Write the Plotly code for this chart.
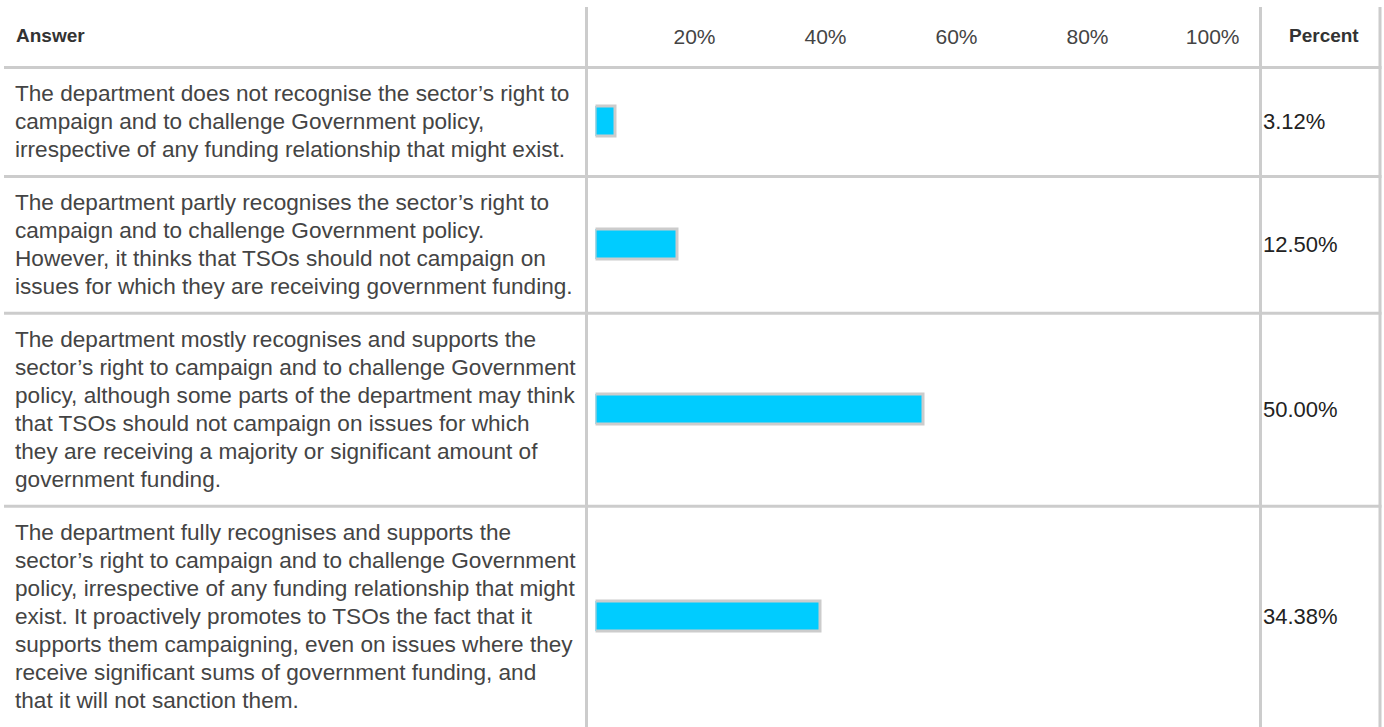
import plotly.graph_objects as go

# ---------------- data ----------------
answer_lines = [
    ["The department does not recognise the sector’s right to",
     "campaign and to challenge Government policy,",
     "irrespective of any funding relationship that might exist."],
    ["The department partly recognises the sector’s right to",
     "campaign and to challenge Government policy.",
     "However, it thinks that TSOs should not campaign on",
     "issues for which they are receiving government funding."],
    ["The department mostly recognises and supports the",
     "sector’s right to campaign and to challenge Government",
     "policy, although some parts of the department may think",
     "that TSOs should not campaign on issues for which",
     "they are receiving a majority or significant amount of",
     "government funding."],
    ["The department fully recognises and supports the",
     "sector’s right to campaign and to challenge Government",
     "policy, irrespective of any funding relationship that might",
     "exist. It proactively promotes to TSOs the fact that it",
     "supports them campaigning, even on issues where they",
     "receive significant sums of government funding, and",
     "that it will not sanction them."],
]
percent_values = [3.12, 12.50, 50.00, 34.38]
percent_labels = ["3.12%", "12.50%", "50.00%", "34.38%"]
tick_values = [20, 40, 60, 80, 100]
tick_labels = ["20%", "40%", "60%", "80%", "100%"]
header_answer = "Answer"
header_percent = "Percent"

# ---------------- layout geometry ----------------
W, H = 1384, 727
HEADER_Y = 67.5          # px from top, header separator
PLOT_H = H - HEADER_Y    # plot area height in px (y units = px below header)
X0_PX, X100_PX = 595.5, 1250.5
ROW_PITCH = 28
TEXT_PITCH = 28
FONT = "Liberation Sans, Arial, sans-serif"
FS_BODY = 22.6
FS_PCT = 22
FS_HEAD = 19
GRID = "#cccccc"

n_lines = [len(l) for l in answer_lines]
pad = (PLOT_H - ROW_PITCH * sum(n_lines)) / len(n_lines)
row_heights = [n * ROW_PITCH + pad for n in n_lines]
bounds = [0.0]
for h in row_heights:
    bounds.append(bounds[-1] + h)
row_centers = [(bounds[i] + bounds[i + 1]) / 2 for i in range(len(row_heights))]

def px_x(px):
    return px / W

def px_y(px):
    return 1 - px / H

fig = go.Figure()
fig.add_trace(go.Bar(
    x=percent_values, y=row_centers, orientation="h", width=30,
    marker=dict(color="#00ccff", line=dict(color=GRID, width=3)),
    hoverinfo="skip", showlegend=False,
))

shapes = []
# vertical column separators
for xp in (586.5, 1260.5, 1380):
    shapes.append(dict(type="line", xref="paper", yref="paper",
                       x0=px_x(xp), x1=px_x(xp), y0=px_y(7), y1=0,
                       line=dict(color=GRID, width=3)))
# header separator
shapes.append(dict(type="line", xref="paper", yref="paper",
                   x0=px_x(4), x1=px_x(1381.5), y0=px_y(HEADER_Y), y1=px_y(HEADER_Y),
                   line=dict(color=GRID, width=3)))
# row separators
for b in bounds[1:-1]:
    shapes.append(dict(type="line", xref="paper", yref="y",
                       x0=px_x(4), x1=px_x(1381.5), y0=b, y1=b,
                       line=dict(color=GRID, width=3)))

annotations = []
annotations.append(dict(text="<b>" + header_answer + "</b>", xref="paper", yref="paper",
                        x=px_x(14), y=px_y(36), xanchor="left", yanchor="middle",
                        showarrow=False, font=dict(family=FONT, size=FS_HEAD, color="#333333")))
annotations.append(dict(text="<b>" + header_percent + "</b>", xref="paper", yref="paper",
                        x=px_x(1324), y=px_y(36), xanchor="center", yanchor="middle",
                        showarrow=False, font=dict(family=FONT, size=FS_HEAD, color="#333333")))
for lines, yc, lab in zip(answer_lines, row_centers, percent_labels):
    n = len(lines)
    for i, line in enumerate(lines):
        annotations.append(dict(text=line, xref="paper", yref="y",
                                x=px_x(13), y=yc + (i - (n - 1) / 2) * TEXT_PITCH,
                                xanchor="left", yanchor="middle", align="left",
                                showarrow=False,
                                font=dict(family=FONT, size=FS_BODY, color="#444444")))
    annotations.append(dict(text=lab, xref="paper", yref="y",
                            x=px_x(1261), y=yc, xanchor="left", yanchor="middle", align="left",
                            showarrow=False, font=dict(family=FONT, size=FS_PCT, color="#222222")))

fig.update_layout(
    width=W, height=H,
    margin=dict(l=0, r=0, t=0, b=0),
    paper_bgcolor="white", plot_bgcolor="white",
    xaxis=dict(domain=[X0_PX / W, X100_PX / W], range=[0, 100], side="top",
               tickvals=tick_values, ticktext=tick_labels,
               ticklabelposition="outside left", ticklabelshift=-11,
               ticklabelstandoff=18, ticks="",
               showgrid=False, zeroline=False, showline=False,
               tickfont=dict(family=FONT, size=21, color="#444444"), fixedrange=True),
    yaxis=dict(domain=[0, PLOT_H / H], range=[PLOT_H, 0], showticklabels=False,
               showgrid=False, zeroline=False, showline=False, fixedrange=True),
    shapes=shapes, annotations=annotations, bargap=0,
)

fig.write_html("out.html")
